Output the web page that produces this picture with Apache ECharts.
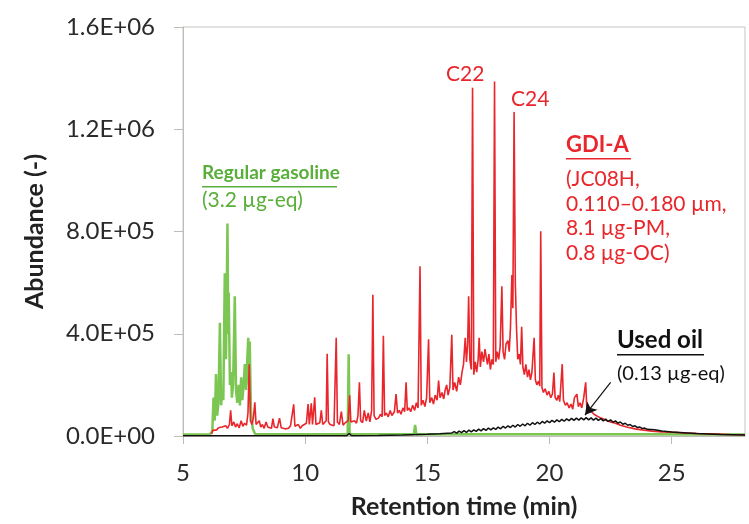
<!DOCTYPE html>
<html>
<head>
<meta charset="utf-8">
<script src="https://cdn.jsdelivr.net/npm/echarts@6/dist/echarts.min.js"></script>
<style>
  html, body { margin: 0; padding: 0; background: #ffffff; }
  #chart { width: 749px; height: 524px; }
</style>
</head>
<body>
<div id="chart"></div>
<script>
// Retention time (min) and abundance (thousands of counts) for each trace.

// GDI-A particle extract (red)
const gdiTime = [
  6.17, 6.22, 6.3, 6.38, 6.45, 6.52, 6.6, 6.68, 6.75, 6.82, 6.9, 6.95, 7.0, 7.08, 7.15, 7.22, 7.3, 7.38, 7.45, 7.52,
  7.6, 7.66, 7.71, 7.76, 7.82, 7.88, 7.94, 7.99, 8.05, 8.12, 8.18, 8.25, 8.32, 8.4, 8.47, 8.55, 8.62, 8.68, 8.74, 8.8,
  8.86, 8.95, 9.02, 9.1, 9.18, 9.25, 9.32, 9.4, 9.48, 9.53, 9.58, 9.65, 9.72, 9.8, 9.88, 9.95, 10.05, 10.12, 10.17, 10.25,
  10.3, 10.39, 10.44, 10.52, 10.6, 10.66, 10.72, 10.8, 10.86, 10.9, 10.95, 11.02, 11.1, 11.18, 11.27, 11.32, 11.4, 11.48, 11.55, 11.62,
  11.7, 11.76, 11.82, 11.87, 11.95, 12.02, 12.1, 12.16, 12.22, 12.27, 12.35, 12.42, 12.5, 12.58, 12.65, 12.72, 12.77, 12.82, 12.9, 13.0,
  13.08, 13.15, 13.2, 13.25, 13.32, 13.4, 13.48, 13.55, 13.65, 13.72, 13.78, 13.85, 13.92, 14.0, 14.07, 14.13, 14.18, 14.25, 14.32, 14.4,
  14.48, 14.55, 14.62, 14.7, 14.75, 14.82, 14.9, 14.97, 15.05, 15.1, 15.18, 15.25, 15.32, 15.4, 15.46, 15.52, 15.6, 15.67, 15.73, 15.79,
  15.85, 15.92, 16.0, 16.05, 16.12, 16.2, 16.28, 16.35, 16.42, 16.48, 16.55, 16.6, 16.65, 16.69, 16.74, 16.8, 16.85, 16.9, 16.96, 17.02,
  17.08, 17.12, 17.17, 17.23, 17.3, 17.36, 17.4, 17.46, 17.52, 17.58, 17.64, 17.7, 17.75, 17.8, 17.86, 17.92, 17.98, 18.05, 18.1, 18.16,
  18.22, 18.3, 18.35, 18.4, 18.46, 18.5, 18.55, 18.6, 18.65, 18.7, 18.76, 18.81, 18.86, 18.91, 18.97, 19.03, 19.1, 19.16, 19.22, 19.28,
  19.37, 19.42, 19.48, 19.55, 19.6, 19.64, 19.69, 19.75, 19.82, 19.9, 19.97, 20.05, 20.12, 20.18, 20.23, 20.3, 20.36, 20.42, 20.52, 20.57,
  20.65, 20.72, 20.8, 20.88, 20.95, 21.02, 21.12, 21.18, 21.25, 21.32, 21.4, 21.48, 21.53, 21.6, 21.68, 21.74, 21.82, 21.9, 22.0, 22.1,
  22.2, 22.35, 22.5, 22.7, 22.9, 23.2, 23.5, 23.78, 24.2, 24.6, 25.0, 25.5, 26.1, 26.8, 27.4, 28.0
];
const gdiAbundK = [
  8, 22, 28, 24, 32, 26, 35, 28, 40, 30, 45, 100, 40, 55, 35, 48, 32, 60, 38, 50,
  42, 90, 281, 60, 45, 70, 132, 45, 38, 60, 35, 45, 30, 55, 35, 40, 30, 68, 35, 40,
  32, 70, 32, 38, 28, 35, 30, 40, 35, 124, 38, 32, 45, 30, 40, 35, 50, 125, 45, 128,
  45, 151, 45, 38, 52, 100, 45, 40, 60, 322, 55, 45, 50, 40, 384, 55, 45, 95, 42, 50,
  45, 60, 159, 55, 48, 60, 50, 80, 210, 60, 52, 100, 58, 90, 55, 100, 553, 80, 65, 70,
  85, 75, 392, 80, 90, 75, 100, 80, 95, 164, 90, 100, 85, 110, 95, 210, 100, 110, 95, 120,
  100, 130, 110, 664, 120, 140, 115, 150, 378, 130, 150, 125, 160, 140, 217, 150, 170, 145, 180, 200,
  160, 190, 396, 180, 210, 175, 230, 200, 250, 280, 384, 290, 360, 547, 300, 260, 1362, 240, 290, 250,
  300, 384, 270, 330, 290, 340, 314, 280, 320, 260, 300, 280, 1387, 290, 330, 300, 350, 586, 330, 300,
  360, 373, 330, 420, 630, 500, 1267, 600, 420, 300, 320, 280, 427, 270, 240, 280, 230, 260, 220, 250,
  384, 220, 200, 215, 195, 801, 190, 170, 185, 160, 175, 150, 165, 248, 150, 140, 160, 135, 281, 140,
  120, 130, 110, 125, 105, 150, 164, 115, 130, 110, 150, 210, 100, 95, 98, 93, 85, 82, 75, 70,
  67, 60, 55, 50, 42, 34, 28, 24, 19, 16, 15, 12, 10, 8, 6, 5
];

// Regular gasoline (green)
const gasTime = [
  5.0, 6.1, 6.2, 6.25, 6.3, 6.35, 6.4, 6.45, 6.51, 6.56, 6.6, 6.65, 6.71, 6.76, 6.82, 6.85, 6.87, 6.92, 6.97, 7.0,
  7.05, 7.12, 7.17, 7.22, 7.28, 7.33, 7.38, 7.43, 7.48, 7.53, 7.58, 7.63, 7.67, 7.7, 7.73, 7.78, 7.85, 7.95, 9.0, 10.5,
  11.74, 11.78, 11.82, 13.0, 14.45, 14.5, 14.55, 16.0, 20.0, 24.0, 28.0
];
const gasAbundK = [
  6, 6, 20, 150, 60, 242, 80, 130, 443, 120, 180, 140, 637, 300, 831, 400, 560, 200, 250, 150,
  200, 547, 180, 130, 200, 120, 230, 140, 200, 281, 180, 300, 384, 200, 370, 100, 30, 8, 7, 7,
  7, 320, 7, 7, 7, 43, 7, 7, 7, 7, 6
];

// Used oil (black)
const oilTime = [
  5.0, 8.0, 11.7, 11.8, 11.9, 13.0, 14.0, 15.0, 15.5, 16.0,
  16.1, 16.2, 16.3, 16.4, 16.5, 16.6, 16.7, 16.8, 16.9, 17.0,
  17.1, 17.2, 17.3, 17.4, 17.5, 17.6, 17.7, 17.8, 17.9, 18.0,
  18.1, 18.2, 18.3, 18.4, 18.5, 18.6, 18.7, 18.8, 18.9, 19.0,
  19.1, 19.2, 19.3, 19.4, 19.5, 19.6, 19.7, 19.8, 19.9, 20.0,
  20.1, 20.2, 20.3, 20.4, 20.5, 20.6, 20.7, 20.8, 20.9, 21.0,
  21.1, 21.2, 21.3, 21.4, 21.5, 21.6, 21.7, 21.8, 21.9, 22.0,
  22.1, 22.2, 22.3, 22.4, 22.5, 22.6, 22.7, 22.8, 22.9, 23.0,
  23.1, 23.2, 23.3, 23.4, 23.5, 23.6, 23.7, 23.8, 23.9, 24.0,
  24.3, 24.6, 25.0, 25.5, 26.0, 26.5, 27.0, 27.5, 28.0
];
const oilAbundK = [
  1, 1, 1, 10, 1, 2, 4, 7, 9, 12,
  17, 11, 19, 13, 21, 14, 23, 16, 24, 18,
  27, 20, 29, 22, 31, 24, 32, 26, 35, 28,
  38, 31, 40, 33, 42, 35, 45, 38, 47, 40,
  50, 42, 52, 45, 54, 47, 57, 50, 59, 52,
  61, 54, 63, 56, 65, 58, 67, 60, 69, 61,
  70, 62, 71, 63, 72, 63, 71, 62, 70, 61,
  68, 59, 66, 57, 63, 54, 59, 50, 55, 46,
  50, 42, 45, 37, 40, 33, 35, 29, 31, 26,
  24, 20, 16, 13, 10, 8, 6, 5, 4
];

// Axis ticks
const xTicks = { min: 5, max: 28, step: 5 };
const yTicks = { min: 0, max: 1600000, step: 400000 };

const RED = '#e8262b';
const GREEN_LINE = '#7cc653';
const GREEN_TEXT = '#5aae3a';
const FONT = 'Lato, "Open Sans", sans-serif';

function pairs(times, valuesK) {
  return times.map((t, i) => [t, valuesK[i] * 1000]);
}

function sci(v) {
  const [m, e] = v.toExponential(1).split('e');
  const n = Math.abs(parseInt(e, 10));
  return m + 'E' + (e[0] === '-' ? '-' : '+') + (n < 10 ? '0' + n : '' + n);
}

const chart = echarts.init(document.getElementById('chart'), null, { renderer: 'canvas' });

// underlined bold heading for the annotation blocks
function heading(text, x, yMid, color, width, size) {
  return [
    { type: 'text', left: x, top: yMid - size * 0.6, style: { text: text, fill: color, font: 'bold ' + size + 'px ' + FONT } },
    { type: 'rect', shape: { x: x, y: yMid + 11, width: width, height: 1.6 }, style: { fill: color } }
  ];
}
function plain(text, x, yMid, color, size) {
  return { type: 'text', left: x, top: yMid - size * 0.6, style: { text: text, fill: color, font: size + 'px ' + FONT } };
}

chart.setOption({
  animation: false,
  backgroundColor: '#ffffff',
  grid: {
    left: 183, right: 4, top: 27, bottom: 85,
    show: true, borderColor: '#c9c5c2', borderWidth: 1, backgroundColor: 'transparent'
  },
  xAxis: {
    type: 'value',
    min: xTicks.min, max: xTicks.max, interval: xTicks.step,
    name: 'Retention time (min)',
    nameLocation: 'middle', nameGap: 58,
    nameTextStyle: { fontFamily: FONT, fontWeight: 'bold', fontSize: 25, color: '#222' },
    axisLine: { show: true, onZero: false, lineStyle: { color: '#c0bcb8', width: 1 } },
    axisTick: { show: true, length: 8, lineStyle: { color: '#c0bcb8' } },
    axisLabel: { fontFamily: FONT, fontSize: 24, color: '#2a2a2a', margin: 25, showMaxLabel: false },
    splitLine: { show: false }
  },
  yAxis: {
    type: 'value',
    min: yTicks.min, max: yTicks.max, interval: yTicks.step,
    name: 'Abundance (-)',
    nameLocation: 'middle', nameGap: 136, nameRotate: 90,
    nameTextStyle: { fontFamily: FONT, fontWeight: 'bold', fontSize: 25, color: '#222' },
    axisLine: { show: true, lineStyle: { color: '#c0bcb8', width: 1 } },
    axisTick: { show: true, length: 9, lineStyle: { color: '#c0bcb8' } },
    axisLabel: { fontFamily: FONT, fontSize: 24, color: '#2a2a2a', margin: 28, formatter: sci },
    splitLine: { show: false }
  },
  series: [
    {
      name: 'Regular gasoline', type: 'line', data: pairs(gasTime, gasAbundK),
      showSymbol: false, lineStyle: { color: GREEN_LINE, width: 2.5 }, z: 2
    },
    {
      name: 'GDI-A', type: 'line', data: pairs(gdiTime, gdiAbundK),
      showSymbol: false, lineStyle: { color: RED, width: 1.6 }, z: 3
    },
    {
      name: 'Used oil', type: 'line', data: pairs(oilTime, oilAbundK),
      showSymbol: false, lineStyle: { color: '#111', width: 1.5 }, z: 4,
      markLine: {
        silent: true, symbol: ['none', 'arrow'], symbolSize: [10, 12],
        label: { show: false },
        lineStyle: { color: '#111', width: 1.2, type: 'solid' },
        data: [[{ coord: [22.5, 210000] }, { coord: [21.45, 82000] }]]
      }
    }
  ],
  graphic: [
    { type: 'text', left: 446, top: 64, style: { text: 'C22', fill: RED, font: '21px ' + FONT } },
    { type: 'text', left: 511, top: 89, style: { text: 'C24', fill: RED, font: '21px ' + FONT } },
    ...heading('Regular gasoline', 202, 175, GREEN_TEXT, 135, 19),
    plain('(3.2 µg-eq)', 202, 202, GREEN_TEXT, 21),
    ...heading('GDI-A', 566, 147, RED, 65, 22),
    plain('(JC08H,', 566, 181, RED, 21),
    plain('0.110–0.180 µm,', 566, 206, RED, 21),
    plain('8.1 µg-PM,', 566, 230, RED, 21),
    plain('0.8 µg-OC)', 566, 255, RED, 21),
    ...heading('Used oil', 617, 343, '#111', 87, 24),
    plain('(0.13 µg-eq)', 617, 376, '#111', 20)
  ]
});
</script>
</body>
</html>
